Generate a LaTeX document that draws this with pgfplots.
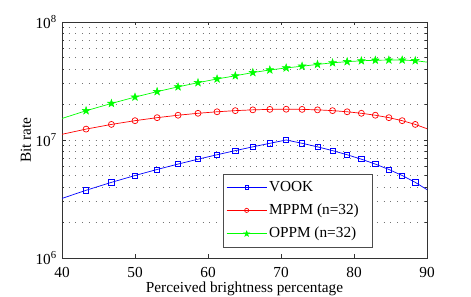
\documentclass[border=0pt]{standalone}
\usepackage{pgfplots}
\pgfplotsset{compat=1.18}
\usepackage{fontspec}
\setmainfont{Liberation Serif}
\pgfdeclareplotmark{pentagram}{%
  \pgfpathmoveto{\pgfpointpolar{90}{\pgfplotmarksize}}%
  \pgfpathlineto{\pgfpointpolar{126}{0.40\pgfplotmarksize}}%
  \pgfpathlineto{\pgfpointpolar{162}{\pgfplotmarksize}}%
  \pgfpathlineto{\pgfpointpolar{198}{0.40\pgfplotmarksize}}%
  \pgfpathlineto{\pgfpointpolar{234}{\pgfplotmarksize}}%
  \pgfpathlineto{\pgfpointpolar{270}{0.40\pgfplotmarksize}}%
  \pgfpathlineto{\pgfpointpolar{306}{\pgfplotmarksize}}%
  \pgfpathlineto{\pgfpointpolar{342}{0.40\pgfplotmarksize}}%
  \pgfpathlineto{\pgfpointpolar{18}{\pgfplotmarksize}}%
  \pgfpathlineto{\pgfpointpolar{54}{0.40\pgfplotmarksize}}%
  \pgfpathclose
  \pgfusepathqfillstroke}
\newcommand{\fs}{\fontsize{15.3pt}{17pt}\selectfont}
\begin{document}
\fs
\begin{tikzpicture}[x=1pt,y=1pt]
\useasboundingbox (0,0) rectangle (471,297);
\begin{axis}[
  at={(62pt,39pt)}, anchor=south west,
  scale only axis, width=365pt, height=236pt,
  xmin=40, xmax=90, ymode=log, ymin=1e6, ymax=1e8,
  xtick={40,50,...,90},
  ytick={1e6,1e7,1e8},
  yticklabels={10\textsuperscript{6},10\textsuperscript{7},10\textsuperscript{8}},
  /pgf/number format/assume math mode=true,
  tick label style={font=\fs},
  label style={font=\fs},
  xticklabel style={anchor=base, inner sep=0pt, yshift=-20pt},
  xlabel={Perceived brightness percentage},
  ylabel={Bit rate},
  xlabel style={at={(axis description cs:0.5,0)}, anchor=base, inner sep=0pt, yshift=-35pt},
  ylabel style={yshift=-6pt},
  ymajorgrids, yminorgrids,
  major grid style={dash pattern=on 0.9pt off 5.8pt, black!55, line width=0.7pt},
  minor grid style={dash pattern=on 0.9pt off 5.8pt, black!55, line width=0.7pt},
  tick align=inside, tick pos=both,
  major tick length=3.5pt, minor tick length=2pt,
  axis line style={line width=0.7pt, black!80},
  every tick/.style={black!80, line width=0.6pt},
  legend style={at={(0.441,0.044)}, anchor=south west,
    draw=black!70, line width=0.7pt, font=\fs, fill=white,
    row sep=6.5pt, inner xsep=3pt, inner ysep=5pt},
  legend cell align=left,
]
% lines
\addplot[blue, line width=0.7pt, forget plot] coordinates {
(39.53,3.125e6)(43.30,3.75e6)(46.77,4.375e6)(50.00,5e6)(53.03,5.625e6)(55.90,6.25e6)(58.63,6.875e6)(61.24,7.5e6)(63.74,8.125e6)(66.14,8.75e6)(68.47,9.375e6)(70.71,1e7)(72.89,9.375e6)(75.00,8.75e6)(77.06,8.125e6)(79.06,7.5e6)(81.01,6.875e6)(82.92,6.25e6)(84.78,5.625e6)(86.60,5e6)(88.39,4.375e6)(90.14,3.75e6)};
\addplot[red, line width=0.7pt, forget plot] coordinates {
(39.53,1.1013e7)(43.30,1.2368e7)(46.77,1.3552e7)(50.00,1.4579e7)(53.03,1.5463e7)(55.90,1.6214e7)(58.63,1.6839e7)(61.24,1.7344e7)(63.74,1.7733e7)(66.14,1.8008e7)(68.47,1.8173e7)(70.71,1.8227e7)(72.89,1.8173e7)(75.00,1.8008e7)(77.06,1.7733e7)(79.06,1.7344e7)(81.01,1.6839e7)(82.92,1.6214e7)(84.78,1.5463e7)(86.60,1.4579e7)(88.39,1.3552e7)(90.14,1.2368e7)};
\addplot[green, line width=0.7pt, forget plot] coordinates {
(39.53,1.49e7)(43.30,1.77e7)(46.77,2.04e7)(50.00,2.31e7)(53.03,2.57e7)(55.90,2.82e7)(58.63,3.06e7)(61.24,3.29e7)(63.74,3.50e7)(66.14,3.73e7)(68.47,3.92e7)(70.71,4.08e7)(72.89,4.22e7)(75.00,4.37e7)(77.06,4.51e7)(79.06,4.61e7)(81.01,4.69e7)(82.92,4.74e7)(84.78,4.76e7)(86.60,4.76e7)(88.39,4.70e7)(90.14,4.56e7)};
% markers
\addplot[blue, only marks, mark=square, mark size=2.6pt, line width=0.7pt,
  legend image code/.code={\draw[blue,line width=0.7pt] (0pt,0pt)--(40pt,0pt);
    \draw[blue,line width=0.7pt] plot[mark=square, mark size=1.8pt] coordinates {(20pt,0pt)};}]
 coordinates {
(43.30,3.75e6)(46.77,4.375e6)(50.00,5e6)(53.03,5.625e6)(55.90,6.25e6)(58.63,6.875e6)(61.24,7.5e6)(63.74,8.125e6)(66.14,8.75e6)(68.47,9.375e6)(70.71,1e7)(72.89,9.375e6)(75.00,8.75e6)(77.06,8.125e6)(79.06,7.5e6)(81.01,6.875e6)(82.92,6.25e6)(84.78,5.625e6)(86.60,5e6)(88.39,4.375e6)};
\addlegendentry{VOOK}
\addplot[red, only marks, mark=o, mark size=3pt, line width=0.7pt,
  legend image code/.code={\draw[red,line width=0.7pt] (0pt,0pt)--(40pt,0pt);
    \draw[red,line width=0.7pt] plot[mark=o, mark size=2.1pt] coordinates {(20pt,0pt)};}]
 coordinates {
(43.30,1.2368e7)(46.77,1.3552e7)(50.00,1.4579e7)(53.03,1.5463e7)(55.90,1.6214e7)(58.63,1.6839e7)(61.24,1.7344e7)(63.74,1.7733e7)(66.14,1.8008e7)(68.47,1.8173e7)(70.71,1.8227e7)(72.89,1.8173e7)(75.00,1.8008e7)(77.06,1.7733e7)(79.06,1.7344e7)(81.01,1.6839e7)(82.92,1.6214e7)(84.78,1.5463e7)(86.60,1.4579e7)(88.39,1.3552e7)};
\addlegendentry{MPPM (n=32)\hspace*{9pt}}
\addplot[green, only marks, mark=pentagram, mark size=4pt, line width=0.5pt, mark options={fill=green},
  legend image code/.code={\draw[green,line width=0.7pt] (0pt,0pt)--(40pt,0pt);
    \draw[green,fill=green,line width=0.5pt] plot[mark=pentagram, mark size=3pt] coordinates {(20pt,0pt)};}]
 coordinates {
(43.30,1.77e7)(46.77,2.04e7)(50.00,2.31e7)(53.03,2.57e7)(55.90,2.82e7)(58.63,3.06e7)(61.24,3.29e7)(63.74,3.50e7)(66.14,3.73e7)(68.47,3.92e7)(70.71,4.08e7)(72.89,4.22e7)(75.00,4.37e7)(77.06,4.51e7)(79.06,4.61e7)(81.01,4.69e7)(82.92,4.74e7)(84.78,4.76e7)(86.60,4.76e7)(88.39,4.70e7)};
\addlegendentry{OPPM (n=32)}
\end{axis}
\end{tikzpicture}
\end{document}
